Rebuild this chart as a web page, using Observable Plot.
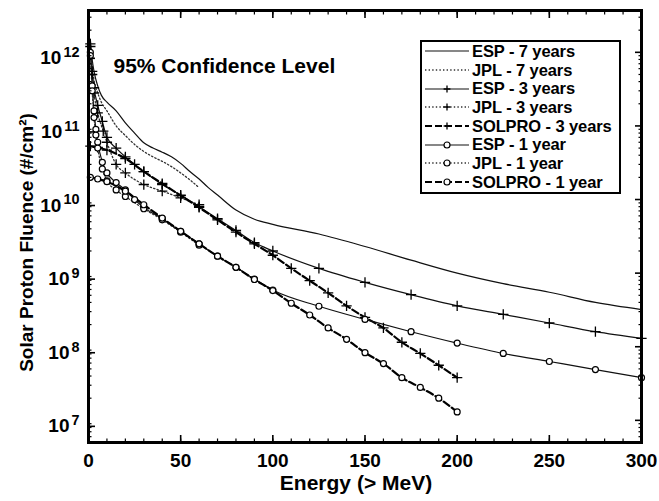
<!DOCTYPE html>
<html><head><meta charset="utf-8">
<script src="https://cdn.jsdelivr.net/npm/d3@7"></script>
<script src="https://cdn.jsdelivr.net/npm/@observablehq/plot@0.6"></script>
<style>
body{margin:0;background:#fff;}
#wrap{position:relative;width:659px;height:501px;font-family:"Liberation Sans",Arial,sans-serif;}
#legend{position:absolute;left:420px;top:40px;width:197px;border:2px solid #000;background:#fff;}
#legend .row{height:18.7px;display:flex;align-items:center;font-weight:bold;font-size:16.5px;white-space:nowrap;letter-spacing:-0.1px;}
#legend svg{flex:none;margin-left:2px;margin-right:2px;}
</style></head>
<body><div id="wrap"></div>
<script>
// ---- data (Energy in MeV, fluence in #/cm^2) ----
const seriesNames = ["ESP - 7 years","JPL - 7 years","ESP - 3 years","JPL - 3 years","SOLPRO - 3 years","ESP - 1 year","JPL - 1 year","SOLPRO - 1 year"];
const xTickValues = [0,50,100,150,200,250,300];
const yTickValues = [1e7,1e8,1e9,1e10,1e11,1e12];

const esp7 = [[1,1.5e12],[2,8e11],[3,5.5e11],[5,3.5e11],[7,2.6e11],[10,2.1e11],[15,1.6e11],[20,1.1e11],[25,8.0e10],[30,5.9e10],[35,5.0e10],[40,4.4e10],[45,3.8e10],[50,3.1e10],[55,2.4e10],[60,1.9e10],[65,1.45e10],[70,1.15e10],[80,7.2e9],[90,5.4e9],[100,4.6e9],[125,3.4e9],[150,2.3e9],[175,1.5e9],[200,1.0e9],[225,7.2e8],[250,5.5e8],[275,4.0e8],[300,3.2e8]];
const jpl7 = [[1,1.4e12],[2,6.5e11],[3,4.2e11],[5,2.8e11],[7,2.1e11],[10,1.6e11],[15,1.0e11],[20,7.4e10],[25,5.6e10],[30,4.5e10],[35,3.8e10],[40,3.3e10],[45,2.8e10],[50,2.3e10],[55,1.85e10],[60,1.45e10]];
const esp3 = [[1,1.2e12],[2,5.5e11],[3,3.3e11],[5,1.9e11],[7.5,1.15e11],[10,7e10],[15,5e10],[20,3.8e10],[25,3.0e10],[30,2.4e10],[40,1.6e10],[50,1.15e10],[60,8.0e9],[70,5.5e9],[80,3.8e9],[90,2.6e9],[100,2.0e9],[125,1.16e9],[150,7.5e8],[175,5.1e8],[200,3.6e8],[225,2.75e8],[250,2.1e8],[275,1.6e8],[300,1.3e8]];
const jpl3 = [[1,1.3e12],[2,5e11],[3,2.8e11],[5,1.5e11],[8,8.5e10],[10,6e10],[15,3e10],[20,2.3e10],[30,1.6e10],[40,1.3e10],[50,1.05e10],[60,8.5e9]];
const solpro3 = [[1,5.3e10],[5,5.1e10],[10,4.7e10],[20,3.6e10],[30,2.4e10],[40,1.65e10],[50,1.13e10],[60,7.8e9],[70,5.3e9],[80,3.6e9],[90,2.5e9],[100,1.75e9],[110,1.16e9],[120,7.9e8],[130,5.4e8],[140,3.6e8],[150,2.5e8],[160,1.8e8],[170,1.15e8],[180,8.1e7],[190,5.6e7],[200,3.8e7]];
const esp1 = [[1,1.0e12],[2,3.5e11],[3,1.6e11],[4,9e10],[5,6e10],[7.5,3.2e10],[10,2.3e10],[15,1.7e10],[20,1.35e10],[25,1.0e10],[30,7.8e9],[40,5.5e9],[50,3.7e9],[60,2.5e9],[70,1.7e9],[80,1.2e9],[90,8.3e8],[100,5.9e8],[125,3.55e8],[150,2.35e8],[175,1.6e8],[200,1.12e8],[225,8.1e7],[250,6.3e7],[275,4.9e7],[300,3.8e7]];
const jpl1 = [[1,9e11],[2,3e11],[3,1.3e11],[4,7.5e10],[5,5e10],[7.5,2.6e10],[10,1.8e10],[15,1.35e10],[20,1.1e10],[30,7.5e9],[40,5.3e9],[50,3.6e9],[60,2.4e9]];
const solpro1 = [[1,2.0e10],[5,1.9e10],[10,1.75e10],[20,1.3e10],[30,8.5e9],[40,5.6e9],[50,3.7e9],[60,2.5e9],[70,1.7e9],[80,1.2e9],[90,8.2e8],[100,5.8e8],[110,3.9e8],[120,2.7e8],[130,1.8e8],[140,1.26e8],[150,8.3e7],[160,5.9e7],[170,3.8e7],[180,2.8e7],[190,2.0e7],[200,1.3e7]];

const seriesData = [esp7, jpl7, esp3, jpl3, solpro3, esp1, jpl1, solpro1];

// ---- styles ----
const lineStyles = {
  solid:  {stroke:"#111", strokeWidth:1.2},
  dotted: {stroke:"#333", strokeWidth:1.3, strokeDasharray:"1.4,2.2"},
  dashed: {stroke:"#000", strokeWidth:2.2, strokeDasharray:"7,3"}
};
const seriesStyle = [
  {line:"solid", marker:null},
  {line:"dotted", marker:null},
  {line:"solid", marker:"plus"},
  {line:"dotted", marker:"plus"},
  {line:"dashed", marker:"plus"},
  {line:"solid", marker:"circle"},
  {line:"dotted", marker:"circle"},
  {line:"dashed", marker:"circle"}
];

const rows = seriesData.map((s,i)=>s.map(([E,F])=>({E,F,name:seriesNames[i]})));

const marks = [];
rows.forEach((r,i)=>{
  const st = seriesStyle[i];
  marks.push(Plot.line(r,{x:"E",y:"F",...lineStyles[st.line],curve:"monotone-x"}));
});
rows.forEach((r,i)=>{
  const st = seriesStyle[i];
  if (st.marker==="plus") marks.push(Plot.dot(r,{x:"E",y:"F",symbol:"plus",r:3.4,stroke:"#000",strokeWidth:1.3}));
  if (st.marker==="circle") marks.push(Plot.dot(r,{x:"E",y:"F",symbol:"circle",r:3,fill:"#fff",stroke:"#000",strokeWidth:1.2}));
});

const xMinor = d3.range(0,301,10);
const yMinor = [];
for (let e=6;e<=12;e++) for (let k=2;k<=9;k++){const v=k*10**e; if(v>5e6&&v<3.7e12) yMinor.push(v);}
const supFmt = d => "10^" + Math.round(Math.log10(d));
const font = {fontSize:19, fontWeight:"bold"};

marks.push(
  Plot.axisX({anchor:"bottom",ticks:xTickValues,tickSize:-7,tickPadding:18,tickFormat:d=>String(d),label:null,strokeWidth:1.6,...font}),
  Plot.axisX({anchor:"bottom",ticks:xMinor,tickSize:-3.5,tickFormat:()=>"",label:null,strokeWidth:1.2}),
  Plot.axisX({anchor:"top",ticks:xTickValues,tickSize:-7,tickFormat:()=>"",label:null,strokeWidth:1.6}),
  Plot.axisX({anchor:"top",ticks:xMinor,tickSize:-3.5,tickFormat:()=>"",label:null,strokeWidth:1.2}),
  Plot.axisY({anchor:"left",ticks:yTickValues,tickSize:-7,tickPadding:16,tickFormat:supFmt,label:null,strokeWidth:1.6,dy:6,...font}),
  Plot.axisY({anchor:"left",ticks:yMinor,tickSize:-3.5,tickFormat:()=>"",label:null,strokeWidth:1.2}),
  Plot.axisY({anchor:"right",ticks:yTickValues,tickSize:-7,tickFormat:()=>"",label:null,strokeWidth:1.6}),
  Plot.axisY({anchor:"right",ticks:yMinor,tickSize:-3.5,tickFormat:()=>"",label:null,strokeWidth:1.2}),
  Plot.frame({stroke:"#000",strokeWidth:3}),
  Plot.text(["Energy (> MeV)"],{frameAnchor:"bottom",dy:47,dx:-9,...font,fontSize:21}),
  Plot.text(["Solar Proton Fluence (#/cm²)"],{frameAnchor:"left",textAnchor:"middle",rotate:-90,dx:-62,dy:16,...font,fontSize:19}),
  Plot.text(["95% Confidence Level"],{frameAnchor:"top-left",textAnchor:"start",dx:25,dy:48,...font,fontSize:21})
);

const chart = Plot.plot({
  width:659, height:501,
  marginLeft:88, marginRight:18, marginTop:10, marginBottom:59,
  style:{fontFamily:"'Liberation Sans', Arial, sans-serif", background:"#fff", color:"#000"},
  x:{domain:[0,300]},
  y:{type:"log", domain:[5e6,3.7e12]},
  marks
});

chart.querySelectorAll('g[aria-label="y-axis tick label"] text').forEach(t=>{
  const m = /^10\^(\d+)$/.exec(t.textContent);
  if(!m) return;
  t.textContent = "10";
  const ts = document.createElementNS("http://www.w3.org/2000/svg","tspan");
  ts.setAttribute("dy","-0.5em"); ts.setAttribute("dx","2"); ts.setAttribute("font-size","0.76em");
  ts.textContent = m[1];
  t.appendChild(ts);
});

const wrap = document.getElementById("wrap");
wrap.appendChild(chart);

// legend
const legend = document.createElement("div");
legend.id = "legend";
seriesNames.forEach((name,i)=>{
  const st = seriesStyle[i];
  const ls = lineStyles[st.line];
  const row = document.createElement("div");
  row.className = "row";
  const w=46,h=18;
  let svg = `<svg width="${w}" height="${h}"><line x1="1" x2="${w-1}" y1="${h/2}" y2="${h/2}" stroke="${ls.stroke}" stroke-width="${ls.strokeWidth}" ${ls.strokeDasharray?`stroke-dasharray="${ls.strokeDasharray}"`:""}/>`;
  if(st.marker==="plus") svg += `<path d="M${w/2-3.4},${h/2}H${w/2+3.4}M${w/2},${h/2-3.4}V${h/2+3.4}" stroke="#000" stroke-width="1.3"/>`;
  if(st.marker==="circle") svg += `<circle cx="${w/2}" cy="${h/2}" r="3" fill="#fff" stroke="#000" stroke-width="1.2"/>`;
  svg += `</svg>`;
  row.innerHTML = svg + `<span>${name}</span>`;
  legend.appendChild(row);
});
wrap.appendChild(legend);
</script></body></html>
